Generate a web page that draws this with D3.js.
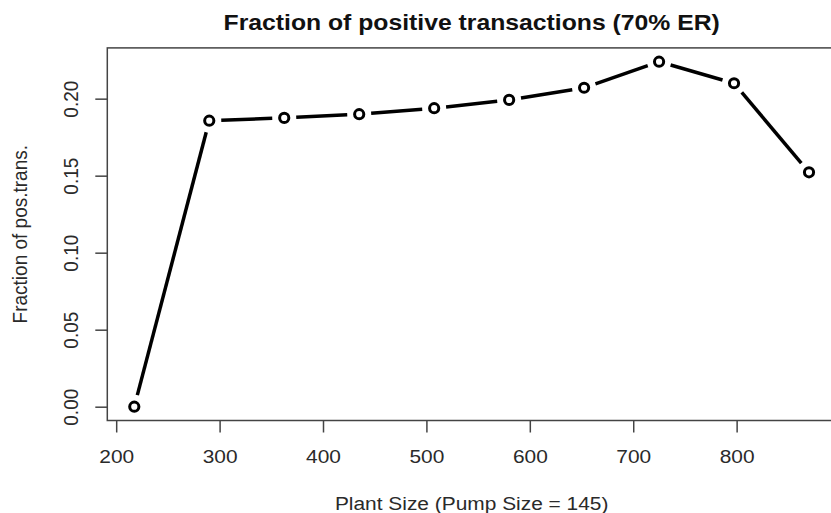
<!DOCTYPE html>
<html>
<head>
<meta charset="utf-8">
<script src="https://cdn.jsdelivr.net/npm/d3@7"></script>
<style>
  body { margin: 0; background: #fff; }
  svg { display: block; font-family: "Liberation Sans", Arial, Helvetica, sans-serif; }
</style>
</head>
<body>
<div class="chart"></div>
<script>
// data
var plantSizes = [217.5, 290, 362.5, 435, 507.5, 580, 652.5, 725, 797.5, 870];
var fractions = [0.0, 0.1857, 0.1875, 0.1899, 0.1938, 0.1992, 0.2071, 0.2240, 0.2100, 0.1522];
var xTickValues = [200, 300, 400, 500, 600, 700, 800];
var yTickValues = [0.00, 0.05, 0.10, 0.15, 0.20];

var titleText = "Fraction of positive transactions (70% ER)";
var xLabelText = "Plant Size (Pump Size = 145)";
var yLabelText = "Fraction of pos.trans.";

var svgWidth = 831;
var svgHeight = 513;

// plot region (R style)
var plot = { left: 107.3, right: 836, top: 47.9, bottom: 420.5 };
var stretch = 1.1; // text in the picture is a little wide

var svg = d3.select(".chart")
  .append("svg")
  .attr("width", svgWidth)
  .attr("height", svgHeight);

svg.append("rect")
  .attr("width", svgWidth)
  .attr("height", svgHeight)
  .attr("fill", "#fff");

// R pads the data range by 4% on each side
var xExt = d3.extent(plantSizes);
var yExt = d3.extent(fractions);
var xPad = (xExt[1] - xExt[0]) * 0.04;
var yPad = (yExt[1] - yExt[0]) * 0.04;

var xScale = d3.scaleLinear()
  .domain([xExt[0] - xPad, xExt[1] + xPad])
  .range([plot.left, plot.right]);

var yScale = d3.scaleLinear()
  .domain([yExt[0] - yPad, yExt[1] + yPad])
  .range([plot.bottom, plot.top]);

// axes
var xAxis = d3.axisBottom(xScale)
  .tickValues(xTickValues)
  .tickSize(12)
  .tickPadding(17)
  .tickFormat(d3.format("d"));

var yAxis = d3.axisLeft(yScale)
  .tickValues(yTickValues)
  .tickSize(12)
  .tickFormat(d3.format(".2f"));

var gx = svg.append("g")
  .attr("transform", "translate(0," + plot.bottom + ")")
  .call(xAxis);

var gy = svg.append("g")
  .attr("transform", "translate(" + plot.left + ",0)")
  .call(yAxis);

[gx, gy].forEach(function(g) {
  g.select(".domain").remove();
  g.selectAll(".tick line")
    .attr("stroke", "#444")
    .attr("stroke-width", 1.5);
  g.selectAll(".tick text")
    .attr("fill", "#2a2a2a")
    .attr("font-size", "19px")
    .attr("font-family", "Liberation Sans, Arial, sans-serif");
});

gx.selectAll(".tick text")
  .attr("transform", "scale(" + stretch + ",1)");

gy.selectAll(".tick text")
  .attr("x", 0)
  .attr("y", -26.4)
  .attr("dy", 0)
  .attr("text-anchor", "middle")
  .attr("transform", "scale(" + stretch + ",1) rotate(-90)");

// box
svg.append("rect")
  .attr("x", plot.left)
  .attr("y", plot.top)
  .attr("width", plot.right - plot.left)
  .attr("height", plot.bottom - plot.top)
  .attr("fill", "none")
  .attr("stroke", "#444")
  .attr("stroke-width", 1.5);

// points + lines, type = "b" (lines stop short of the points)
var pts = plantSizes.map(function(d, i) {
  return [xScale(d), yScale(fractions[i])];
});
var gap = 12;

var segs = d3.pairs(pts).map(function(p) {
  var dx = p[1][0] - p[0][0], dy = p[1][1] - p[0][1];
  var len = Math.sqrt(dx * dx + dy * dy);
  var ux = dx / len, uy = dy / len;
  return [p[0][0] + ux * gap, p[0][1] + uy * gap, p[1][0] - ux * gap, p[1][1] - uy * gap];
});

svg.append("g")
  .selectAll("line")
  .data(segs)
  .enter()
  .append("line")
  .attr("x1", d => d[0])
  .attr("y1", d => d[1])
  .attr("x2", d => d[2])
  .attr("y2", d => d[3])
  .attr("stroke", "#000")
  .attr("stroke-width", 3.5);

svg.append("g")
  .selectAll("circle")
  .data(plantSizes)
  .enter()
  .append("circle")
  .attr("cx", d => xScale(d))
  .attr("cy", (d, i) => yScale(fractions[i]))
  .attr("r", 4.6)
  .attr("fill", "none")
  .attr("stroke", "#000")
  .attr("stroke-width", 3);

// titles
var midX = (plot.left + plot.right) / 2;
var midY = (plot.top + plot.bottom) / 2;

svg.append("text")
  .attr("transform", "translate(" + midX + ",30) scale(" + stretch + ",1)")
  .attr("text-anchor", "middle")
  .attr("font-size", "22.5px")
  .attr("font-weight", "bold")
  .attr("fill", "#111")
  .text(titleText);

svg.append("text")
  .attr("transform", "translate(" + midX + ",509.5) scale(" + stretch + ",1)")
  .attr("text-anchor", "middle")
  .attr("font-size", "19px")
  .attr("fill", "#2a2a2a")
  .text(xLabelText);

svg.append("text")
  .attr("transform", "translate(27," + midY + ") scale(" + stretch + ",1) rotate(-90)")
  .attr("text-anchor", "middle")
  .attr("font-size", "19px")
  .attr("fill", "#2a2a2a")
  .text(yLabelText);
</script>
</body>
</html>
